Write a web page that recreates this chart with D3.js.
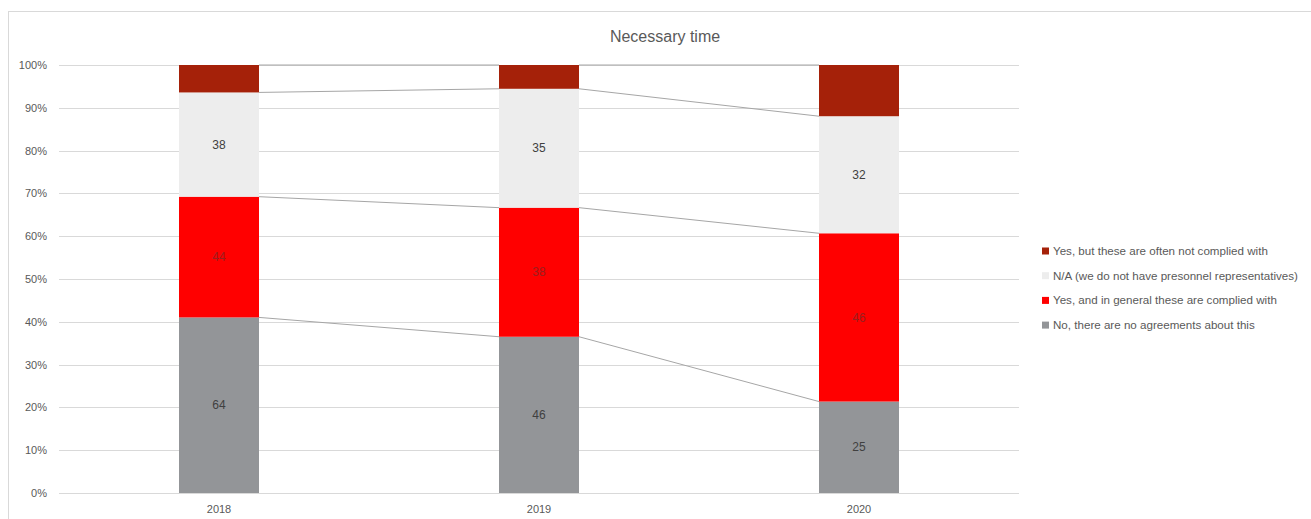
<!DOCTYPE html>
<html>
<head>
<meta charset="utf-8">
<script src="https://cdn.jsdelivr.net/npm/d3@7"></script>
<style>
  html, body { margin: 0; padding: 0; background: #fff; }
  svg { display: block; font-family: "Liberation Sans", Arial, sans-serif; }
</style>
</head>
<body>
<svg id="chart" width="1311" height="519"></svg>
<script>
// ---- data ----
const categories = ["2018", "2019", "2020"];
const noAgreements   = [64, 46, 25];
const yesComplied    = [44, 38, 46];
const notApplicable  = [38, 35, 32];
const yesNotComplied = [10, 7, 14];
const seriesNames = [
  "No, there are no agreements about this",
  "Yes, and in general these are complied with",
  "N/A (we do not have presonnel representatives)",
  "Yes, but these are often not complied with"
];
const seriesColors = ["#939598", "#ff0000", "#ededed", "#a52109"];
const labelColors  = ["#404040", "#9a1f1f", "#404040", "#404040"];
const showLabels   = [true, true, true, false];
const yTicks = [0, 0.1, 0.2, 0.3, 0.4, 0.5, 0.6, 0.7, 0.8, 0.9, 1.0];
const title = "Necessary time";

// ---- build table ----
const keys = ["s0", "s1", "s2", "s3"];
const seriesValues = [noAgreements, yesComplied, notApplicable, yesNotComplied];
const table = categories.map((c, i) => {
  const row = { cat: c };
  keys.forEach((k, j) => row[k] = seriesValues[j][i]);
  return row;
});
const stacked = d3.stack().keys(keys).offset(d3.stackOffsetExpand)(table);

// ---- layout ----
const svg = d3.select("#chart");
const plot = { left: 59, right: 1019, top: 65, bottom: 493 };

// outer chart border
svg.append("rect")
  .attr("x", 8.5).attr("y", 11.5)
  .attr("width", 1320).attr("height", 520)
  .attr("fill", "none").attr("stroke", "#d9d9d9").attr("stroke-width", 1);

const x = d3.scaleBand().domain(categories).range([plot.left, plot.right]).paddingInner(0.75).paddingOuter(0.375);
const y = d3.scaleLinear().domain([0, 1]).range([plot.bottom, plot.top]);

// gridlines
svg.append("g").selectAll("line").data(yTicks).join("line")
  .attr("x1", plot.left).attr("x2", plot.right)
  .attr("y1", d => Math.round(y(d)) + 0.5).attr("y2", d => Math.round(y(d)) + 0.5)
  .attr("stroke", "#d9d9d9").attr("stroke-width", 1);

// y axis labels
const yAxis = d3.axisLeft(y).tickValues(yTicks).tickFormat(d3.format(".0%")).tickSize(0).tickPadding(12);
const yg = svg.append("g").attr("transform", `translate(${plot.left},0)`).call(yAxis);
yg.select(".domain").remove();
yg.selectAll("text").attr("fill", "#595959").style("font-size", "11px")
  .style("font-family", "'Liberation Sans', Arial, sans-serif");

// x axis labels
const xAxis = d3.axisBottom(x).tickSize(0).tickPadding(12);
const xg = svg.append("g").attr("transform", `translate(0,${plot.bottom})`).call(xAxis);
xg.select(".domain").remove();
xg.selectAll("text").attr("fill", "#595959").style("font-size", "11px")
  .style("font-family", "'Liberation Sans', Arial, sans-serif");

// series lines
const bw = x.bandwidth();
const lineG = svg.append("g");
stacked.forEach(s => {
  for (let i = 0; i < categories.length - 1; i++) {
    lineG.append("line")
      .attr("x1", x(categories[i]) + bw).attr("y1", y(s[i][1]))
      .attr("x2", x(categories[i + 1])).attr("y2", y(s[i + 1][1]))
      .attr("stroke", "#a6a6a6").attr("stroke-width", 1);
  }
});

// bars
const barG = svg.append("g");
stacked.forEach((s, j) => {
  barG.selectAll(null).data(s).join("rect")
    .attr("x", d => x(d.data.cat))
    .attr("width", bw)
    .attr("y", d => y(d[1]))
    .attr("height", d => y(d[0]) - y(d[1]))
    .attr("fill", seriesColors[j]);
});

// data labels
stacked.forEach((s, j) => {
  if (!showLabels[j]) return;
  barG.selectAll(null).data(s).join("text")
    .attr("x", d => x(d.data.cat) + bw / 2)
    .attr("y", d => (y(d[0]) + y(d[1])) / 2)
    .attr("dy", "0.35em")
    .attr("text-anchor", "middle")
    .attr("fill", labelColors[j])
    .style("font-size", "12px")
    .text(d => d.data[keys[j]]);
});

// title
svg.append("text")
  .attr("x", 665).attr("y", 42)
  .attr("text-anchor", "middle")
  .attr("fill", "#595959")
  .style("font-size", "16px")
  .text(title);

// legend (top to bottom: reversed series order)
const legendOrder = [3, 2, 1, 0];
const lg = svg.append("g");
legendOrder.forEach((j, k) => {
  const cy = 251 + k * 24.7;
  lg.append("rect").attr("x", 1042).attr("y", cy - 3.5).attr("width", 7).attr("height", 7)
    .attr("fill", seriesColors[j]);
  lg.append("text").attr("x", 1053).attr("y", cy).attr("dy", "0.35em")
    .attr("fill", "#595959").style("font-size", "11.6px")
    .text(seriesNames[j]);
});
</script>
</body>
</html>
